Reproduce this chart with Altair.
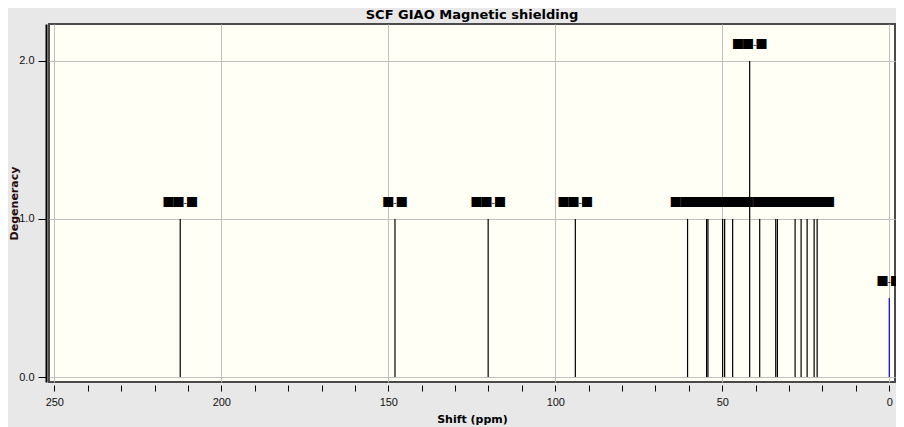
import altair as alt
import pandas as pd

# Chemical shifts (ppm) of the sticks, their degeneracy and the (unrenderable) atom labels
shifts = [212.3, 148.0, 120.1, 94.0, 60.4, 54.7, 54.3, 49.9, 49.3, 46.9,
          41.8, 38.8, 34.0, 33.5, 28.2, 26.4, 24.6, 22.5, 21.6, 0.0]
degeneracy = [1, 1, 1, 1, 1, 1, 1, 1, 1, 1,
              2, 1, 1, 1, 1, 1, 1, 1, 1, 0.5]
peak_labels = ["██-█", "█-█", "██-█", "██-█", "██-█", "██-█", "██-█", "██-█", "██-█", "██-█",
               "██-█", "██-█", "██-█", "██-█", "██-█", "██-█", "██-█", "██-█", "██-█", "█-█"]
is_reference = [False] * 19 + [True]

x_ticks = list(range(0, 251, 10))
y_ticks = [0, 1, 2]

df = pd.DataFrame({"shift": shifts, "deg": degeneracy,
                   "label": peak_labels, "ref": is_reference})

x_enc = alt.X(
    "shift:Q",
    title="Shift (ppm)",
    scale=alt.Scale(domain=[-1.71, 251.59], reverse=True, nice=False, zero=False),
    axis=alt.Axis(
        values=x_ticks,
        format="d",
        labelExpr="datum.value % 50 == 0 ? datum.label : ''",
        gridOpacity={"condition": {"test": "datum.value % 50 == 0", "value": 1}, "value": 0},
        offset=3,
        domain=False,
        tickSize=6,
        labelPadding=5,
        titleY=37,
        titleBaseline="alphabetic",
    ),
)
y_scale = alt.Scale(domain=[-0.0316, 2.234], nice=False, zero=False)
y_axis = alt.Axis(
    values=y_ticks,
    format=".1f",
    offset=3,
    domain=True,
    domainColor="black",
    domainWidth=2,
    tickSize=8,
    labelPadding=4,
    titleX=-29,
    titleBaseline="alphabetic",
    titleAngle=270,
    titleColor="#2a0a0a",
)

sticks = alt.Chart(df).mark_rule(strokeWidth=1.2).encode(
    x=x_enc,
    y=alt.Y("deg:Q", title="Degeneracy", scale=y_scale, axis=y_axis),
    y2=alt.datum(0),
    color=alt.condition("datum.ref", alt.value("#0000ff"), alt.value("black")),
)

texts = alt.Chart(df).mark_text(
    font="Noto Sans CJK SC", fontSize=10, align="center", baseline="middle", dy=-16, color="black"
).encode(
    x=x_enc,
    y=alt.Y("deg:Q", title="Degeneracy", scale=y_scale, axis=y_axis),
    text="label:N",
)

chart = alt.layer(sticks, texts).properties(
    width=846,
    height=358,
    autosize=alt.AutoSizeParams(type="none"),
    padding={"left": 41, "top": 16, "right": 1, "bottom": 45},
    background="#e8e8e8",
    title=alt.TitleParams(
        "SCF GIAO Magnetic shielding",
        font="DejaVu Sans", fontSize=13, fontWeight="bold", color="black",
        anchor="middle", frame="group", baseline="alphabetic", offset=6, dy=14,
    ),
).configure_view(
    fill="#fffff5", stroke="#4a4a4a", strokeWidth=2
).configure_axis(
    gridColor="#c0c0c0",
    gridWidth=1,
    tickColor="black",
    tickWidth=1,
    labelFont="Liberation Sans",
    labelFontSize=11,
    labelColor="#111111",
    titleFont="DejaVu Sans",
    titleFontSize=11,
    titleFontWeight="bold",
    titleColor="black",
)

chart.save("out.html", embed_options={"renderer": "svg", "actions": False})
